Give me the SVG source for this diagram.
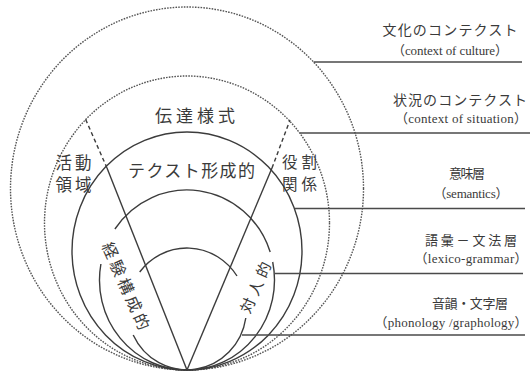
<svg xmlns="http://www.w3.org/2000/svg" width="530" height="374" viewBox="0 0 530 374">
<style>
  .bg{fill:#ffffff}
  .dot{fill:none;stroke:#555;stroke-width:1.4;stroke-dasharray:1.6 1.2}
  .sol{fill:none;stroke:#3c3c3c;stroke-width:1.4}
  .dash{fill:none;stroke:#3c3c3c;stroke-width:1.4;stroke-dasharray:4 3}
  .lead{fill:none;stroke:#4a4a4a;stroke-width:1.6}
  .jp{font-family:"Noto Sans CJK JP","Noto Sans CJK SC",sans-serif;fill:#3a3a3a;text-anchor:middle}
  .en{font-family:"Liberation Serif","Noto Sans CJK JP",serif;fill:#3a3a3a;text-anchor:middle}
</style>
<rect class="bg" x="0" y="0" width="530" height="374"/>

<g id="culture">
  <ellipse class="dot" cx="187" cy="188.5" rx="176.5" ry="181.5"/>
  <text class="jp" x="450" y="35" font-size="14" textLength="135">文化のコンテクスト</text>
  <text class="en" x="450" y="54.5" font-size="13" textLength="116">（context of culture）</text>
</g>

<g id="situation">
  <ellipse class="dot" cx="187" cy="223" rx="142.5" ry="147"/>
  <text class="jp" x="460" y="105" font-size="14" textLength="134">状況のコンテクスト</text>
  <text class="en" x="461" y="122.5" font-size="13" textLength="132">（context of situation）</text>
  <text class="jp" x="195" y="121.5" font-size="17" textLength="80">伝達様式</text>
  <text class="jp" x="73.5" y="168.5" font-size="16.5" textLength="36">活動</text>
  <text class="jp" x="73.5" y="191" font-size="16.5" textLength="36">領域</text>
  <text class="jp" x="299.5" y="167.5" font-size="15.5" textLength="35">役割</text>
  <text class="jp" x="299.5" y="190" font-size="15.5" textLength="35">関係</text>
</g>

<g id="semantics">
  <ellipse class="sol" cx="187" cy="251" rx="115" ry="119"/>
  <text class="jp" x="467" y="178" font-size="13" textLength="36">意味層</text>
  <text class="en" x="471" y="197.5" font-size="13" textLength="75">（semantics）</text>
  <text class="jp" x="191.5" y="176.5" font-size="17" textLength="127">テクスト形成的</text>
</g>

<g id="lexicogrammar">
  <path class="sol" d="M114.9,229 A87.5,90 0 0 1 270.2,252"/>
  <path class="sol" d="M272.7,262 A87.5,90 0 1 1 100.9,264"/>
  <text class="jp" x="471" y="245" font-size="13" textLength="92">語彙－文法層</text>
  <text class="en" x="471" y="262.5" font-size="13" textLength="113">（lexico-grammar）</text>
</g>

<g id="phonology">
  <path class="sol" d="M139.7,272 A59.5,61 0 0 1 237,276"/>
  <path class="sol" d="M245.8,318 A59.5,61 0 0 1 133.2,335"/>
  <text class="jp" x="470" y="308" font-size="13" textLength="76">音韻・文字層</text>
  <text class="en" x="451" y="326.5" font-size="13" textLength="153">（phonology /graphology）</text>
</g>

<g id="experiential">
  <text class="jp" transform="translate(126,286) rotate(66)" x="0" y="6" font-size="16" textLength="94">経験構成的</text>
</g>

<g id="interpersonal">
  <text class="jp" transform="translate(255.5,287.5) rotate(-66)" x="0" y="5.7" font-size="15" textLength="54">対人的</text>
</g>

<g id="connectors">
  <line class="sol" x1="187" y1="370" x2="107" y2="168"/>
  <line class="dash" x1="107" y1="168" x2="85" y2="118"/>
  <line class="sol" x1="187" y1="370" x2="272" y2="168"/>
  <line class="dash" x1="272" y1="168" x2="290" y2="120"/>
  <line class="lead" x1="313.6" y1="62" x2="522" y2="62"/>
  <line class="lead" x1="300" y1="133" x2="530" y2="133"/>
  <line class="lead" x1="295" y1="208.5" x2="525" y2="208.5"/>
  <line class="lead" x1="275" y1="273.5" x2="523" y2="273.5"/>
  <line class="lead" x1="242" y1="335" x2="525" y2="335"/>
</g>
</svg>
